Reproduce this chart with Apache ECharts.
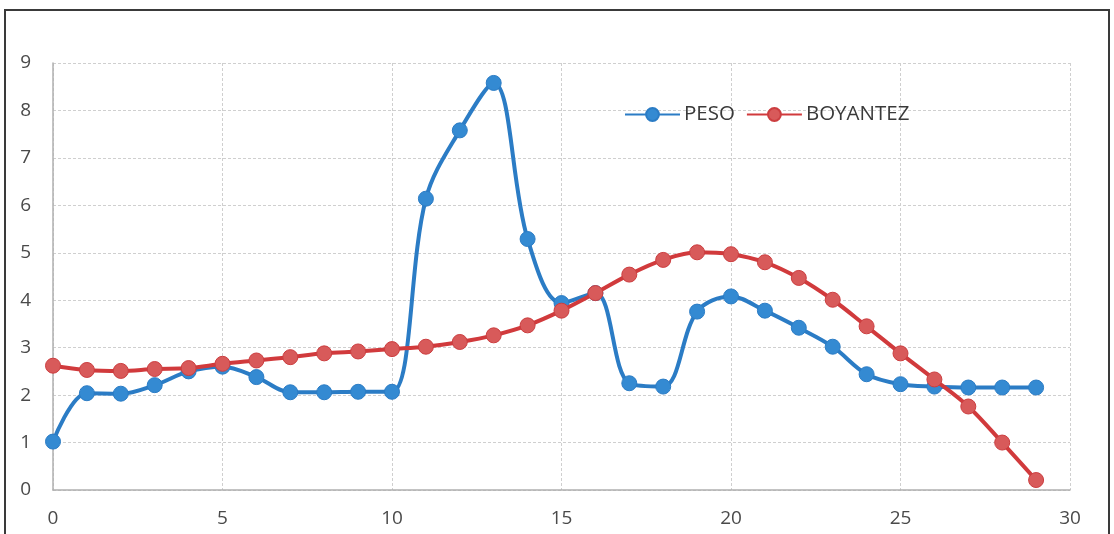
<!DOCTYPE html>
<html>
<head>
<meta charset="utf-8">
<script src="https://cdn.jsdelivr.net/npm/echarts@6/dist/echarts.min.js"></script>
<style>
html,body{margin:0;padding:0;background:#fff;}
#c{width:1114px;height:534px;}
</style>
</head>
<body>
<div id="c"></div>
<script>
const xValues = [0,1,2,3,4,5,6,7,8,9,10,11,12,13,14,15,16,17,18,19,20,21,22,23,24,25,26,27,28,29];
const peso = [1.02,2.04,2.03,2.21,2.5,2.6,2.38,2.06,2.06,2.07,2.07,6.14,7.58,8.58,5.29,3.94,4.15,2.25,2.18,3.76,4.08,3.78,3.42,3.02,2.44,2.23,2.18,2.16,2.16,2.16];
const boyantez = [2.62,2.53,2.51,2.55,2.57,2.66,2.73,2.8,2.88,2.92,2.97,3.02,3.12,3.26,3.47,3.78,4.15,4.54,4.85,5.01,4.97,4.8,4.47,4.01,3.45,2.88,2.33,1.76,1.0,0.21];
const seriesNames = ['PESO','BOYANTEZ'];

const pair = arr => xValues.map((x,i)=>[x,arr[i]]);
const font = '"Open Sans", Lato, sans-serif';

const chart = echarts.init(document.getElementById('c'));
chart.setOption({
  animation:false,
  backgroundColor:'#fff',
  graphic:[{
    type:'rect', silent:true,
    shape:{x:5,y:10,width:1104,height:540},
    style:{fill:'none',stroke:'#3a3a3a',lineWidth:2}
  }],
  legend:{
    left:619, top:99,
    itemWidth:55, itemHeight:16, itemGap:11,
    textStyle:{fontFamily:font,fontSize:20.5,color:'#3a3a3a',padding:[0,0,0,-1]},
    data:seriesNames
  },
  grid:{left:53,right:44,top:63,bottom:44},
  xAxis:{
    type:'value', min:0, max:30, interval:5,
    axisLine:{show:true,lineStyle:{color:'#b0b0b0',width:1.5}},
    axisTick:{show:false},
    axisLabel:{fontFamily:font,fontSize:19,color:'#4a4a4a',margin:19},
    splitLine:{show:true,lineStyle:{color:'#cfcfcf',type:[3,2]}}
  },
  yAxis:{
    type:'value', min:0, max:9, interval:1,
    axisLine:{show:true,lineStyle:{color:'#b0b0b0',width:1.5}},
    axisTick:{show:false},
    axisLabel:{fontFamily:font,fontSize:19,color:'#4a4a4a',margin:22},
    splitLine:{show:true,lineStyle:{color:'#cfcfcf',type:[3,2]}}
  },
  series:[
    {
      name:seriesNames[0], type:'line', data:pair(peso), smooth:0.35,
      symbol:'circle', symbolSize:15,
      lineStyle:{color:'#2b7cc5',width:4},
      itemStyle:{color:'#348ad2',borderColor:'#2b7cc5',borderWidth:1},
      z:2
    },
    {
      name:seriesNames[1], type:'line', data:pair(boyantez), smooth:0.35,
      symbol:'circle', symbolSize:15,
      lineStyle:{color:'#d13a3c',width:4},
      itemStyle:{color:'#d85a5a',borderColor:'#cc3e40',borderWidth:1},
      z:3
    }
  ]
});
</script>
</body>
</html>
